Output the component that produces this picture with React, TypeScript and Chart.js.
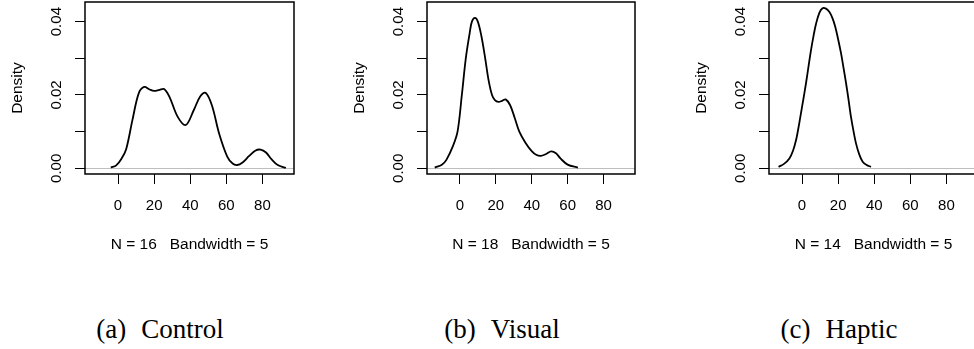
import React, { useEffect, useRef } from 'react';
import { Chart, registerables } from 'chart.js';

Chart.register(...registerables);

// ---- data ----
const X_TICKS = [0, 20, 40, 60, 80];
const X_TICK_LABELS = ['0', '20', '40', '60', '80'];
const Y_TICKS = [0, 0.01, 0.02, 0.03, 0.04];
const Y_TICK_LABELS = ['0.00', '', '0.02', '', '0.04'];
const X_MIN = -18.3;
const X_MAX = 97.5;
const Y_MIN = -0.00155;
const Y_MAX = 0.04535;

const controlX = [-4, -1, 2, 4.5, 8, 11.5, 14.5, 17.5, 20, 23, 25.5, 28.5, 33, 37.5, 42, 45.5, 48.5, 52, 56, 60.5, 63.5, 66, 69, 72.5, 76, 79, 82, 85, 88.5, 93];
const controlY = [0.0002, 0.0008, 0.0027, 0.0052, 0.0132, 0.0205, 0.0222, 0.0215, 0.0211, 0.0214, 0.0216, 0.0195, 0.0141, 0.0118, 0.0159, 0.0196, 0.0206, 0.0172, 0.0095, 0.0032, 0.0013, 0.0009, 0.0016, 0.0033, 0.0048, 0.0051, 0.0043, 0.0025, 0.0009, 0.0001];

const visualX = [-14, -10, -7.5, -4, -1.3, 1.1, 3.3, 5.5, 6.7, 8.4, 10, 12, 14.1, 16, 17.9, 19.5, 21.5, 23.5, 25.5, 28, 30.5, 33.1, 36.5, 40, 42.5, 45, 48, 50.8, 53.5, 56, 60, 65.7];
const visualY = [0.0002, 0.001, 0.0023, 0.0059, 0.01, 0.02, 0.03, 0.037, 0.04, 0.041, 0.04, 0.036, 0.03, 0.024, 0.02, 0.0186, 0.0181, 0.0184, 0.0188, 0.0172, 0.0138, 0.01, 0.007, 0.0047, 0.0037, 0.0034, 0.0039, 0.0046, 0.0041, 0.0027, 0.001, 0.0002];

const hapticX = [-13, -10, -7, -5, -3.3, -2, -0.6, 0.8, 2.2, 3.6, 5, 6.4, 7.8, 9.6, 11.2, 13, 15.1, 16.8, 18.4, 20, 21.6, 23, 24.4, 25.8, 27.1, 28.5, 29.9, 31.7, 33.6, 35.8, 38.2];
const hapticY = [0.0004, 0.0012, 0.0027, 0.0048, 0.0077, 0.011, 0.015, 0.019, 0.0232, 0.0278, 0.0323, 0.0362, 0.0395, 0.0424, 0.0436, 0.0436, 0.0427, 0.041, 0.0386, 0.0352, 0.0314, 0.0274, 0.0232, 0.0186, 0.0141, 0.0102, 0.0068, 0.0038, 0.0018, 0.0009, 0.0004];

const sampleSizes = [16, 18, 14];
const bandwidths = [5, 5, 5];
const captionLetters = ['(a)', '(b)', '(c)'];
const captionNames = ['Control', 'Visual', 'Haptic'];

// ---- layout ----
const SANS = "'Liberation Sans', Arial, Helvetica, sans-serif";
const CANVAS_H = 262;
const CANVAS_W = 310;
const BOX_TOP = 2;
const BOX_BOTTOM = 174;

const boxPlugin = {
  id: 'plotBox',
  afterDatasetsDraw(chart: any) {
    const { ctx, chartArea: a } = chart;
    ctx.save();
    ctx.strokeStyle = '#000';
    ctx.lineWidth = 1.5;
    ctx.strokeRect(a.left, a.top, a.right - a.left, a.bottom - a.top);
    ctx.restore();
  },
};

type PanelProps = {
  xs: number[];
  ys: number[];
  n: number;
  bw: number;
  canvasLeft: number;
  boxLeft: number;
  boxRight: number;
};

function DensityPanel({ xs, ys, n, bw, canvasLeft, boxLeft, boxRight }: PanelProps) {
  const ref = useRef<HTMLCanvasElement | null>(null);
  useEffect(() => {
    if (!ref.current) return;
    const yWidth = boxLeft - canvasLeft;
    const rightPad = CANVAS_W - (boxRight - canvasLeft);
    const font = { family: SANS, size: 15 };
    const titleFont = { family: SANS, size: 15.5 };
    const chart = new Chart(ref.current, {
      type: 'line',
      data: {
        datasets: [
          {
            data: xs.map((x, i) => ({ x, y: ys[i] })),
            borderColor: '#000',
            borderWidth: 1.8,
            pointRadius: 0,
            tension: 0.35,
            fill: false,
          },
        ],
      },
      options: {
        animation: false,
        responsive: false,
        devicePixelRatio: 1,
        layout: { padding: { top: BOX_TOP, right: rightPad, left: 0, bottom: 0 } },
        plugins: { legend: { display: false }, tooltip: { enabled: false }, title: { display: false } },
        scales: {
          x: {
            type: 'linear',
            min: X_MIN,
            max: X_MAX,
            afterBuildTicks: (s: any) => {
              s.ticks = X_TICKS.map((v) => ({ value: v }));
            },
            afterFit: (s: any) => {
              s.height = CANVAS_H - BOX_BOTTOM;
              s.paddingLeft = 0;
              s.paddingRight = 0;
              s.paddingTop = 0;
              s.paddingBottom = 0;
            },
            ticks: {
              autoSkip: false,
              maxRotation: 0,
              minRotation: 0,
              padding: 13,
              color: '#000',
              font,
              callback: (_v: any, i: number) => X_TICK_LABELS[i],
            },
            grid: { drawOnChartArea: false, drawTicks: true, tickLength: 10, tickColor: '#000', tickWidth: 1 },
            border: { display: false },
            title: {
              display: true,
              text: `N = ${n}   Bandwidth = ${bw}`,
              color: '#000',
              font: titleFont,
              padding: { top: 0, bottom: 8 },
            },
          },
          y: {
            type: 'linear',
            min: Y_MIN,
            max: Y_MAX,
            afterBuildTicks: (s: any) => {
              s.ticks = Y_TICKS.map((v) => ({ value: v }));
            },
            afterFit: (s: any) => {
              s.width = yWidth;
              s.paddingLeft = 0;
              s.paddingRight = 0;
              s.paddingTop = 0;
              s.paddingBottom = 0;
            },
            ticks: {
              autoSkip: false,
              minRotation: 90,
              maxRotation: 90,
              crossAlign: 'center',
              padding: 3.4,
              color: '#000',
              font,
              callback: (_v: any, i: number) => Y_TICK_LABELS[i],
            },
            grid: {
              color: (c: any) => (c.tick && c.tick.value === 0 ? '#bebebe' : 'rgba(0,0,0,0)'),
              lineWidth: 1,
              drawTicks: true,
              tickLength: 10,
              tickColor: '#000',
              tickWidth: 1,
            },
            border: { display: false },
            title: {
              display: true,
              text: 'Density',
              color: '#000',
              font: titleFont,
              padding: { top: yWidth - 67.5 - 9.3, bottom: 0 },
            },
          },
        },
      } as any,
      plugins: [boxPlugin],
    } as any);
    return () => chart.destroy();
  }, [xs, ys, n, bw, canvasLeft, boxLeft, boxRight]);
  return (
    <canvas
      ref={ref}
      width={CANVAS_W}
      height={CANVAS_H}
      style={{ position: 'absolute', left: canvasLeft, top: 0, width: CANVAS_W, height: CANVAS_H }}
    />
  );
}

function Caption({ center, letter, name }: { center: number; letter: string; name: string }) {
  return (
    <div
      style={{
        position: 'absolute',
        left: center,
        top: 316,
        transform: 'translateX(-50%)',
        fontFamily: "'Liberation Serif', 'Times New Roman', serif",
        fontSize: 27,
        lineHeight: '27px',
        whiteSpace: 'nowrap',
        color: '#000',
      }}
    >
      <span>{letter}</span>
      <span style={{ marginLeft: 15 }}>{name}</span>
    </div>
  );
}

export default function App() {
  const series = [
    { xs: controlX, ys: controlY },
    { xs: visualX, ys: visualY },
    { xs: hapticX, ys: hapticY },
  ];
  const canvasLefts = [0, 340, 680];
  const boxLefts = [85, 427, 769];
  const boxRights = [294, 635, 978];
  const captionCenters = [160, 502, 839];
  return (
    <div
      style={{
        position: 'fixed',
        left: 0,
        top: 0,
        width: 974,
        height: 349,
        overflow: 'hidden',
        background: '#fff',
      }}
    >
      {series.map((s, i) => (
        <DensityPanel
          key={i}
          xs={s.xs}
          ys={s.ys}
          n={sampleSizes[i]}
          bw={bandwidths[i]}
          canvasLeft={canvasLefts[i]}
          boxLeft={boxLefts[i]}
          boxRight={boxRights[i]}
        />
      ))}
      {captionLetters.map((l, i) => (
        <Caption key={i} center={captionCenters[i]} letter={l} name={captionNames[i]} />
      ))}
    </div>
  );
}
